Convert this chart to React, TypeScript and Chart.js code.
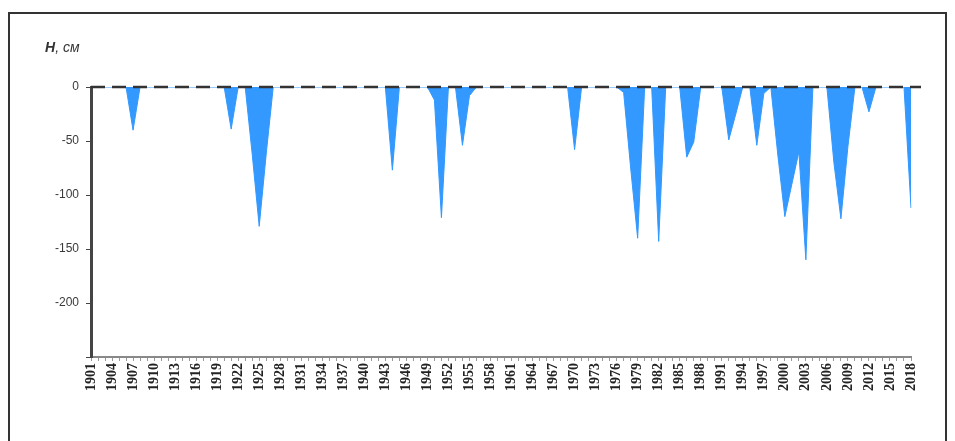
import React, { useEffect, useRef } from "react";
import { Chart, registerables } from "chart.js";

Chart.register(...registerables);

// Years 1901..2018 (categories)
const firstYear = 1901;
const lastYear = 2018;
const years: string[] = [];
for (let y = firstYear; y <= lastYear; y++) years.push(String(y));

// Shown every 3rd year on the axis
const labelStep = 3;

// H, cm deficit values by decade
const v1901: number[] = [0, 0, 0, 0, 0, 0, -40, 0, 0, 0];
const v1911: number[] = [0, 0, 0, 0, 0, 0, 0, 0, 0, 0];
const v1921: number[] = [-39, 0, 0, -62, -129, -62, 0, 0, 0, 0];
const v1931: number[] = [0, 0, 0, 0, 0, 0, 0, 0, 0, 0];
const v1941: number[] = [0, 0, 0, -77, 0, 0, 0, 0, 0, -12];
const v1951: number[] = [-121, 0, 0, -54, -8, 0, 0, 0, 0, 0];
const v1961: number[] = [0, 0, 0, 0, 0, 0, 0, 0, 0, -58];
const v1971: number[] = [0, 0, 0, 0, 0, 0, -5, -75, -140, 0];
const v1981: number[] = [0, -143, 0, 0, 0, -65, -51, 0, 0, 0];
const v1991: number[] = [0, -49, -25, 0, 0, -54, -6, 0, -63, -120];
const v2001: number[] = [-90, -60, -160, 0, 0, 0, -70, -122, -55, 0];
const v2011: number[] = [0, -23, 0, 0, 0, 0, 0, -112];

const values: number[] = [
  ...v1901, ...v1911, ...v1921, ...v1931, ...v1941, ...v1951,
  ...v1961, ...v1971, ...v1981, ...v1991, ...v2001, ...v2011,
];

// Y axis
const yMin = -250;
const yMax = 0;
const yStep = 50;

const zeroLinePlugin = {
  id: "zeroLine",
  afterDatasetsDraw(chart: any) {
    const { ctx, chartArea, scales } = chart;
    const y = scales.y.getPixelForValue(0);
    ctx.save();
    ctx.beginPath();
    ctx.setLineDash([14, 7]);
    ctx.lineWidth = 2.5;
    ctx.strokeStyle = "#333333";
    ctx.moveTo(chartArea.left, y);
    ctx.lineTo(chartArea.right + 10, y);
    ctx.stroke();
    ctx.restore();
  },
};

export default function App() {
  const canvasRef = useRef<HTMLCanvasElement | null>(null);

  useEffect(() => {
    document.body.style.overflow = "hidden";
    const canvas = canvasRef.current;
    if (!canvas) return;
    const chart = new Chart(canvas, {
      type: "line",
      data: {
        labels: years,
        datasets: [
          {
            data: values,
            fill: "origin",
            backgroundColor: "#3399ff",
            borderColor: "#3399ff",
            borderWidth: 1,
            pointRadius: 0,
            tension: 0,
          },
        ],
      },
      options: {
        responsive: false,
        animation: false,
        layout: { padding: { left: 0, right: 44, top: 87, bottom: 0 } },
        plugins: {
          legend: { display: false },
          tooltip: { enabled: false },
          title: { display: false },
        },
        scales: {
          x: {
            type: "category",
            offset: false,
            grid: {
              drawOnChartArea: false,
              drawTicks: true,
              tickLength: 4,
              color: "#999999",
            },
            border: { color: "#888888", width: 2 },
            ticks: {
              autoSkip: false,
              maxRotation: 90,
              minRotation: 90,
              padding: 2,
              color: "#222222",
              font: { family: "'Liberation Serif', serif", size: 14, weight: "bold" },
              callback: (_v: any, i: number) => (i % labelStep === 0 ? years[i] : ""),
            },
            afterFit: (s: any) => {
              s.height = 84;
            },
          },
          y: {
            min: yMin,
            max: yMax,
            grid: {
              drawOnChartArea: false,
              drawTicks: true,
              tickLength: 5,
              color: "#444444",
            },
            border: { color: "#444444", width: 3 },
            ticks: {
              stepSize: yStep,
              padding: 7,
              color: "#3a3a3a",
              font: { family: "'Liberation Sans', Arial, sans-serif", size: 12 },
              callback: (v: any) => (Number(v) === yMin ? "" : String(v)),
            },
            afterFit: (s: any) => {
              s.width = 91;
            },
          },
        },
      },
      plugins: [zeroLinePlugin],
    });
    return () => chart.destroy();
  }, []);

  return (
    <div>
      <div
        style={{
          position: "absolute",
          left: 8,
          top: 12,
          width: 939,
          height: 429,
          border: "2px solid #333",
          borderBottom: "none",
          boxSizing: "border-box",
        }}
      />
      <canvas
        ref={canvasRef}
        width={955}
        height={441}
        style={{ position: "absolute", left: 0, top: 0 }}
      />
      <div
        style={{
          position: "absolute",
          left: 45,
          top: 39,
          fontFamily: "'Liberation Sans', Arial, sans-serif",
          fontStyle: "italic",
          fontSize: 14,
          color: "#333",
        }}
      >
        <b>H</b>, см
      </div>
    </div>
  );
}
